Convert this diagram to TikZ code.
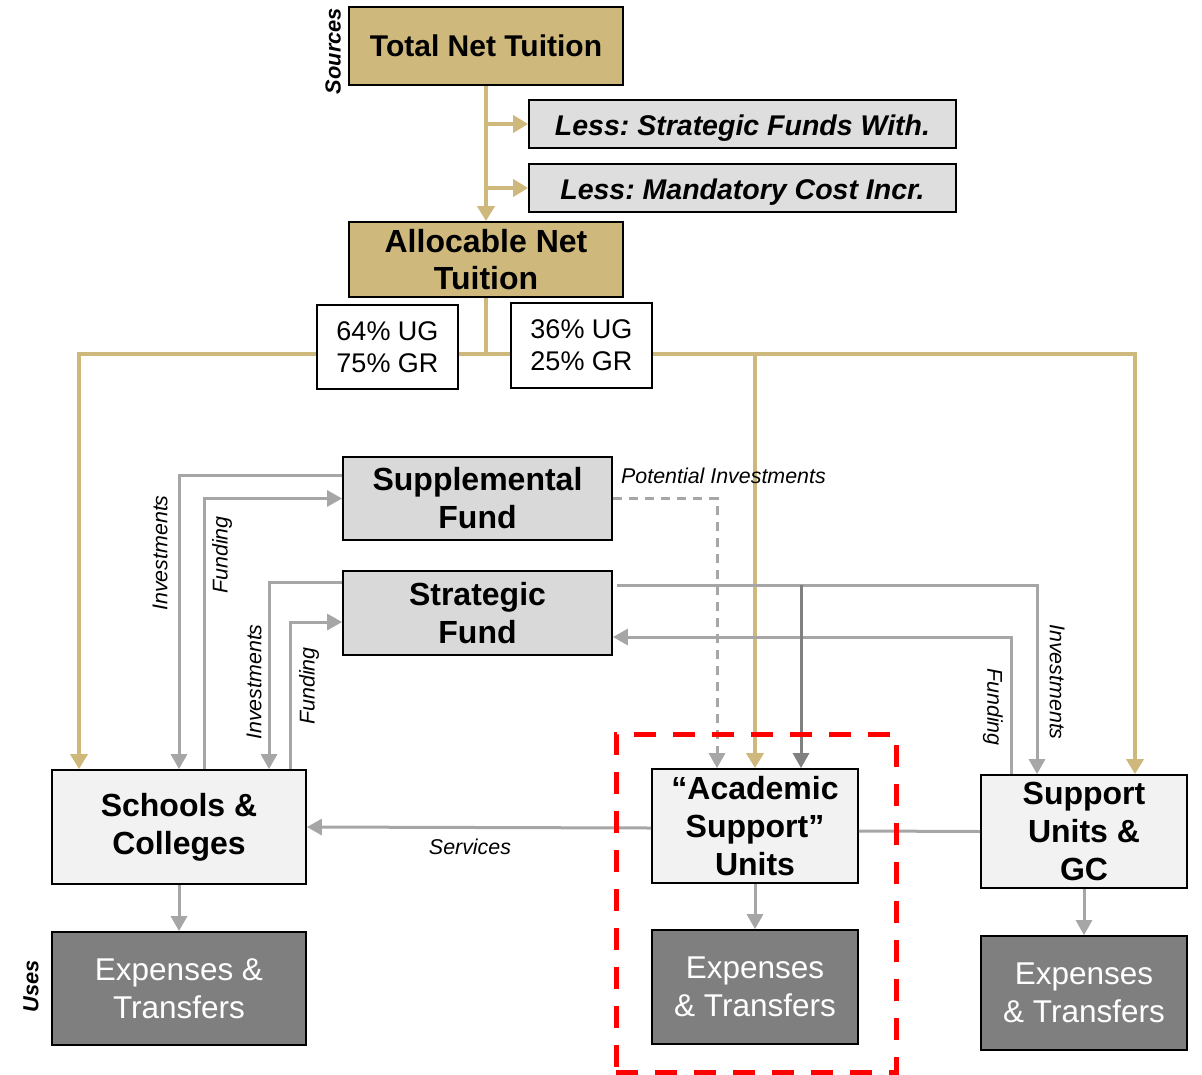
\documentclass[tikz,border=0pt]{standalone}
\usepackage{fontspec}
\setmainfont{Liberation Sans}
\usetikzlibrary{arrows.meta,backgrounds}
\frenchspacing

\definecolor{gold}{HTML}{CFB87C}
\definecolor{lessgray}{HTML}{DEDEDE}
\definecolor{fundgray}{HTML}{D9D9D9}
\definecolor{unitgray}{HTML}{F2F2F2}
\definecolor{expgray}{HTML}{7F7F7F}
\definecolor{linegray}{HTML}{A6A6A6}
\definecolor{darkline}{HTML}{808080}

\newcommand{\lowered}[1]{\raisebox{-4pt}[\height][\depth]{#1}}

\tikzset{
  box/.style={draw=black, line width=1.8pt, inner sep=0pt, align=center},
  goldbox/.style={box, fill=gold, font=\bfseries\fontsize{30}{37}\selectfont},
  lessbox/.style={box, fill=lessgray, font=\bfseries\itshape\fontsize{28.5}{30}\selectfont},
  pctbox/.style={box, fill=white, font=\fontsize{27}{32}\selectfont},
  fundbox/.style={box, fill=fundgray, font=\bfseries\fontsize{32}{38}\selectfont},
  unitbox/.style={box, fill=unitgray, font=\bfseries\fontsize{32}{38}\selectfont},
  expbox/.style={box, fill=expgray, text=white, font=\fontsize{31.5}{38}\selectfont},
  flowlabel/.style={inner sep=0pt, font=\itshape\fontsize{21.4}{24}\selectfont},
  sidelabel/.style={inner sep=0pt, rotate=90, font=\bfseries\itshape\fontsize{21.8}{24}\selectfont},
  goldline/.style={draw=gold, line width=4pt},
  goldarrow/.style={goldline, -{Triangle[length=15pt,width=17pt]}},
  grayline/.style={draw=linegray, line width=3pt},
  grayarrow/.style={grayline, -{Triangle[length=15pt,width=16pt]}},
  darkarrow/.style={draw=darkline, line width=3pt, -{Triangle[length=15pt,width=16pt]}},
  potential/.style={grayarrow, dash pattern=on 9pt off 7pt},
  focusframe/.style={draw=red, line width=5pt, dash pattern=on 22pt off 17pt, inner sep=0pt}
}

\begin{document}
\begin{tikzpicture}[x=1pt, y=-1pt]
\useasboundingbox (0,0) rectangle (1202,1074);

% ---- sources ----
\node[goldbox, minimum width=274pt, minimum height=78pt] (tnt) at (486,46) {Total Net Tuition};
\node[lessbox, minimum width=427pt, minimum height=48pt] (less1) at (742.5,124) {\lowered{Less: Strategic Funds With.}};
\node[lessbox, minimum width=427pt, minimum height=48pt] (less2) at (742.5,188) {\lowered{Less: Mandatory Cost Incr.}};
\node[goldbox, font=\bfseries\fontsize{32}{37}\selectfont, minimum width=274pt, minimum height=75pt] (ant) at (486,259.5) {Allocable Net\\Tuition};
\node[pctbox, minimum width=141pt, minimum height=84pt] (p64) at (387.5,347) {64\% UG\\75\% GR};
\node[pctbox, minimum width=141pt, minimum height=85pt] (p36) at (581.5,345.5) {36\% UG\\25\% GR};
\node[sidelabel] (sources) at (333,51) {Sources};

% ---- funds ----
\node[fundbox, minimum width=269pt, minimum height=83pt] (sup) at (477.5,498.5) {Supplemental\\Fund};
\node[fundbox, minimum width=269pt, minimum height=84pt] (str) at (477.5,613) {Strategic\\Fund};

% ---- units ----
\node[unitbox, minimum width=254pt, minimum height=114pt] (sc) at (179,827) {Schools \&\\Colleges};
\node[unitbox, minimum width=206pt, minimum height=114pt] (ac) at (755,826) {“Academic\\Support”\\Units};
\node[unitbox, minimum width=206pt, minimum height=113pt] (su) at (1084,831.5) {Support\\Units \&\\GC};

% ---- uses ----
\node[expbox, minimum width=254pt, minimum height=113pt] (e1) at (179,988.5) {Expenses \&\\Transfers};
\node[expbox, minimum width=206pt, minimum height=114pt] (e2) at (755,987) {Expenses\\\& Transfers};
\node[expbox, minimum width=206pt, minimum height=114pt] (e3) at (1084,993) {Expenses\\\& Transfers};
\node[sidelabel] (uses) at (31,986) {Uses};

% ---- tuition flow ----
\draw[goldarrow] (tnt.south) -- (ant.north);
\draw[goldarrow] (tnt.south |- less1.west) -- (less1.west);
\draw[goldarrow] (tnt.south |- less2.west) -- (less2.west);
\begin{scope}[on background layer]
  \coordinate (split) at ([yshift=-56pt]ant.south);
  \draw[goldline] (ant.south) -- (split);
  \draw[goldarrow] (split) -| ([xshift=-100pt]sc.north);
  \draw[goldarrow] (split) -| ([xshift=51pt]su.north);
  \draw[goldarrow] (split) -| (ac.north);
\end{scope}

% ---- fund flows, schools side ----
\draw[grayarrow] ([yshift=23.5pt]sup.west) -| (sc.north);
\draw[grayarrow] ([xshift=25pt]sc.north) |- (sup.west);
\draw[grayarrow] ([yshift=31pt]str.west) -| ([xshift=90pt]sc.north);
\draw[grayarrow] ([xshift=111pt]sc.north) |- ([yshift=-9pt]str.west);
\node[flowlabel, rotate=90] (inv1) at (160,553) {Investments};
\node[flowlabel, rotate=90] (fund1) at (222,555) {Funding};
\node[flowlabel, rotate=90] (inv2) at (254,682) {Investments};
\node[flowlabel, rotate=90] (fund2) at (309,686) {Funding};

% ---- fund flows, support side ----
\draw[potential] (sup.east) -| ([xshift=-38pt]ac.north);
\node[flowlabel, anchor=west] (potlab) at (621,476) {Potential Investments};
\draw[grayarrow] ([xshift=4pt,yshift=28pt]str.east) -| ([xshift=-47pt]su.north);
\draw[grayarrow] ([xshift=-73pt]su.north) |- ([yshift=-24pt]str.east);
\draw[darkarrow] ([xshift=46pt]ac.north |- 0,585) -- ([xshift=46pt]ac.north);
\node[flowlabel, rotate=-90] (inv3) at (1057,682) {Investments};
\node[flowlabel, rotate=-90] (fund3) at (993,707) {Funding};

% ---- services ----
\draw[grayline] (su.west) -- ([yshift=-5pt]ac.east);
\draw[grayarrow] ([yshift=-2pt]ac.west) -- (sc.east);
\node[flowlabel] (servlab) at (470,847) {Services};

% ---- spending ----
\draw[grayarrow] (sc.south) -- (e1.north);
\draw[grayarrow] (ac.south) -- (e2.north);
\draw[grayarrow] (su.south) -- (e3.north);

% ---- academic support frame ----
\node[focusframe, minimum width=280pt, minimum height=338pt] (focus) at (756,903) {};
\end{tikzpicture}
\end{document}
